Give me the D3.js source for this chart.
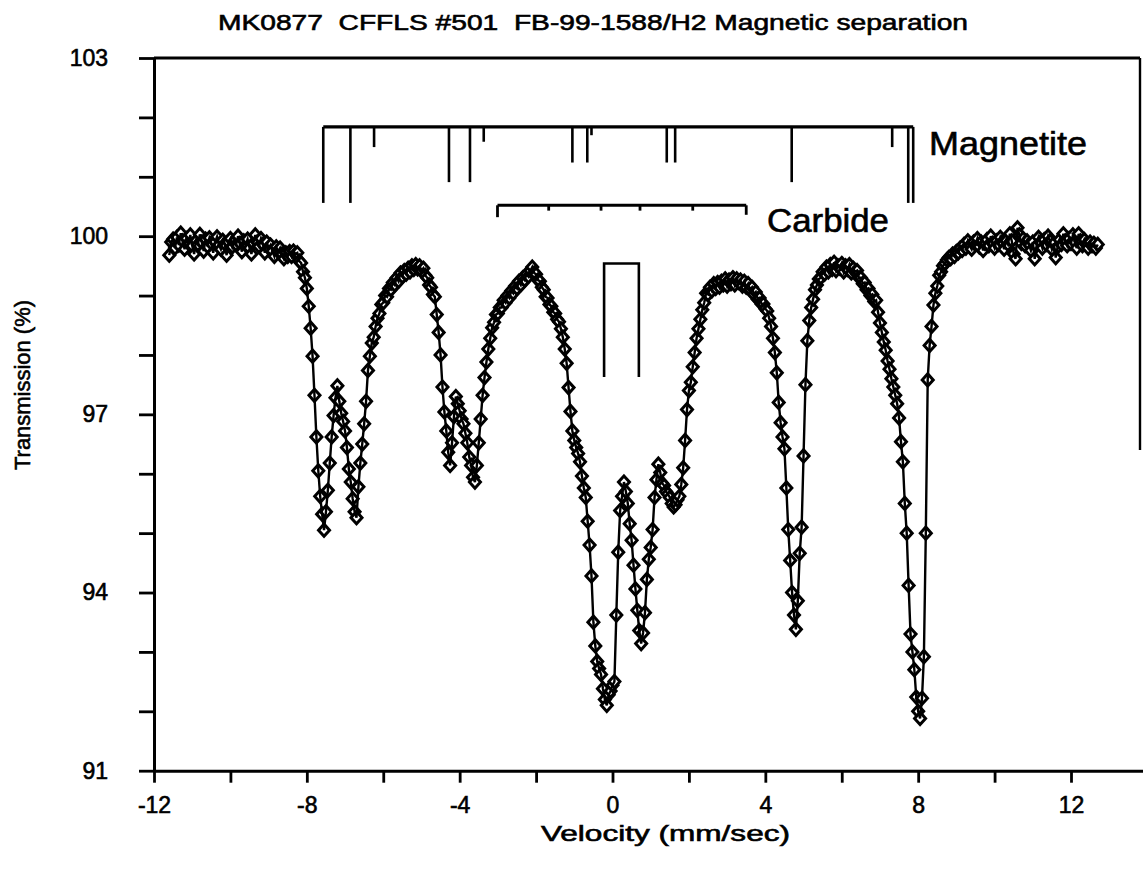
<!DOCTYPE html>
<html><head><meta charset="utf-8">
<script src="https://cdn.jsdelivr.net/npm/d3@7"></script>
<style>
body{margin:0;background:#fff}
svg{display:block}
text{font-family:"Liberation Sans",Arial,Helvetica,sans-serif;fill:#000;stroke:#000;stroke-width:0.6px}
</style>
</head><body>
<svg id="chart" width="1143" height="869"></svg>
<script>
// ---------- text ----------
const titleText = "MK0877  CFFLS #501  FB-99-1588/H2 Magnetic separation";
const xLabelText = "Velocity (mm/sec)";
const yLabelText = "Transmission (%)";
const magnetiteLabel = "Magnetite";
const carbideLabel = "Carbide";

// ---------- axes ----------
const xTicks = [-12,-10,-8,-6,-4,-2,0,2,4,6,8,10,12];
const xTickLabels = [-12,-8,-4,0,4,8,12];
const yTicks = [91,92,93,94,95,96,97,98,99,100,101,102,103];
const yTickLabels = [91,94,97,100,103];

// ---------- spectrum: [velocity mm/s, transmission %] ----------
const baselineLeft = [[-11.6,99.68],[-11.55,99.9],[-11.5,99.95],[-11.45,99.8],[-11.4,99.98],[-11.35,99.85],[-11.3,100.05],[-11.25,99.92],[-11.2,99.78],[-11.15,99.96],[-11.1,99.88],[-11.05,100.02],[-11,99.84],[-10.95,99.7],[-10.9,99.92],[-10.85,99.86],[-10.8,100.03],[-10.75,99.9],[-10.7,99.75],[-10.65,99.95],[-10.6,99.83],[-10.55,99.97],[-10.5,99.88],[-10.45,99.72],[-10.4,99.9],[-10.35,99.99],[-10.3,99.85],[-10.25,99.78],[-10.2,99.93],[-10.15,99.87],[-10.1,99.68],[-10.05,99.9],[-10,99.96],[-9.95,99.82],[-9.9,99.91],[-9.85,99.86],[-9.8,100],[-9.75,99.88],[-9.7,99.74],[-9.65,99.92],[-9.6,99.85],[-9.55,99.95],[-9.5,99.8],[-9.45,99.7],[-9.4,99.88],[-9.35,100.02],[-9.3,99.9],[-9.25,99.83],[-9.2,99.96],[-9.15,99.86],[-9.1,99.72],[-9.05,99.9],[-9,99.8],[-8.95,99.85],[-8.9,99.75],[-8.85,99.66],[-8.8,99.82],[-8.75,99.74],[-8.7,99.8],[-8.65,99.7],[-8.6,99.62],[-8.55,99.72],[-8.5,99.66],[-8.45,99.74],[-8.4,99.66],[-8.35,99.75]];

const sextetLeft = [[-8.3,99.7],[-8.25,99.72],[-8.2,99.58],[-8.15,99.55],[-8.1,99.4],[-8.05,99.3],[-8,99.12],[-7.95,98.82],[-7.9,98.45],[-7.85,97.98],[-7.8,97.32],[-7.75,96.62],[-7.7,96.05],[-7.65,95.62],[-7.6,95.32],[-7.55,95.05],[-7.5,95.36],[-7.45,95.72],[-7.4,96.18],[-7.35,96.62],[-7.3,96.98],[-7.25,97.28],[-7.2,97.48],[-7.15,97.22],[-7.1,97.02],[-7.05,96.88],[-7,96.72],[-6.95,96.44],[-6.9,96.08],[-6.85,95.86],[-6.8,95.58],[-6.75,95.36],[-6.7,95.26],[-6.65,95.78],[-6.6,96.18],[-6.55,96.5],[-6.5,96.84],[-6.45,97.22],[-6.4,97.74],[-6.35,97.98],[-6.3,98.2],[-6.25,98.3],[-6.2,98.48],[-6.15,98.62],[-6.1,98.7],[-6.05,98.85],[-6,98.88],[-5.95,99],[-5.9,98.98],[-5.85,99.12],[-5.8,99.1],[-5.75,99.22],[-5.7,99.18],[-5.65,99.3],[-5.6,99.24],[-5.55,99.38],[-5.5,99.32],[-5.45,99.42],[-5.4,99.36],[-5.35,99.46],[-5.3,99.4],[-5.25,99.5],[-5.2,99.44],[-5.15,99.52],[-5.1,99.45],[-5.05,99.5],[-5,99.42],[-4.95,99.46],[-4.9,99.34],[-4.85,99.3],[-4.8,99.18],[-4.75,99.14],[-4.7,99.02],[-4.65,98.98],[-4.6,98.68],[-4.55,98.38],[-4.5,98],[-4.45,97.46],[-4.4,97.04],[-4.35,96.72],[-4.3,96.36],[-4.25,96.14],[-4.2,96.52],[-4.15,96.96],[-4.1,97.3],[-4.05,97.18],[-4,97.06],[-3.95,96.92],[-3.9,96.84],[-3.85,96.68],[-3.8,96.52],[-3.75,96.28],[-3.7,96.14],[-3.65,95.94],[-3.6,95.86],[-3.55,96.14],[-3.5,96.52],[-3.45,96.92],[-3.4,97.32],[-3.35,97.62],[-3.3,97.88],[-3.25,98.1],[-3.2,98.28],[-3.15,98.46],[-3.1,98.55],[-3.05,98.68],[-3,98.7],[-2.95,98.8],[-2.9,98.8],[-2.85,98.92],[-2.8,98.88],[-2.75,99],[-2.7,98.96],[-2.65,99.08],[-2.6,99.04],[-2.55,99.16],[-2.5,99.12],[-2.45,99.24],[-2.4,99.18],[-2.35,99.3],[-2.3,99.26],[-2.25,99.36],[-2.2,99.32],[-2.15,99.42],[-2.1,99.48],[-2.05,99.38],[-2,99.36]];

const centre = [[-1.95,99.26],[-1.9,99.24],[-1.85,99.14],[-1.8,99.1],[-1.75,98.98],[-1.7,98.96],[-1.65,98.85],[-1.6,98.82],[-1.55,98.72],[-1.5,98.7],[-1.45,98.6],[-1.4,98.56],[-1.35,98.44],[-1.3,98.3],[-1.25,98.1],[-1.2,97.86],[-1.15,97.45],[-1.1,97.05],[-1.05,96.72],[-1,96.56],[-0.95,96.44],[-0.9,96.34],[-0.85,96.2],[-0.8,95.96],[-0.75,95.76],[-0.7,95.6],[-0.65,95.2],[-0.6,94.8],[-0.55,94.28],[-0.5,93.5],[-0.45,93.1],[-0.4,92.84],[-0.35,92.72],[-0.3,92.62],[-0.25,92.38],[-0.2,92.2],[-0.15,92.1],[-0.1,92.28],[-0.05,92.34],[0,92.44],[0.05,92.5],[0.1,93.62],[0.15,94.68],[0.2,95.38],[0.25,95.62],[0.3,95.86],[0.35,95.7],[0.4,95.5],[0.45,95.16],[0.5,94.88],[0.55,94.46],[0.6,94.06],[0.65,93.7],[0.7,93.36],[0.75,93.14],[0.8,93.32],[0.85,93.66],[0.9,94.22],[0.95,94.56],[1,94.76],[1.05,95.06],[1.1,95.6],[1.15,95.9],[1.2,96.16],[1.25,96.02],[1.3,95.84],[1.35,95.8],[1.4,95.7],[1.45,95.66],[1.5,95.6],[1.55,95.5],[1.6,95.44],[1.65,95.48],[1.7,95.56],[1.75,95.62],[1.8,95.82],[1.85,96.1],[1.9,96.56],[1.95,97.08],[2,97.4],[2.05,97.54],[2.1,97.8],[2.15,98.04],[2.2,98.28],[2.25,98.44],[2.3,98.6],[2.35,98.76],[2.4,98.88],[2.45,99.04],[2.5,99.02],[2.55,99.14],[2.6,99.08],[2.65,99.2],[2.7,99.12],[2.75,99.22],[2.8,99.14],[2.85,99.24],[2.9,99.18],[2.95,99.28],[3,99.16],[3.05,99.26],[3.1,99.2],[3.15,99.3],[3.2,99.18],[3.25,99.28],[3.3,99.22],[3.35,99.26],[3.4,99.16],[3.45,99.24],[3.5,99.14],[3.55,99.2],[3.6,99.1],[3.65,99.14],[3.7,99.02],[3.75,99.06],[3.8,98.94],[3.85,98.96],[3.9,98.86],[3.95,98.86],[4,98.78]];

const sextetRight = [[4.05,98.74],[4.1,98.62],[4.15,98.48],[4.2,98.28],[4.25,98.04],[4.3,97.7],[4.35,97.2],[4.4,96.86],[4.45,96.62],[4.5,96.42],[4.55,95.76],[4.6,95.06],[4.65,94.54],[4.7,94],[4.75,93.62],[4.8,93.38],[4.85,93.86],[4.9,94.66],[4.95,95.1],[5,96.3],[5.05,97.5],[5.1,98.24],[5.15,98.58],[5.2,98.8],[5.25,98.94],[5.3,99.1],[5.35,99.18],[5.4,99.28],[5.45,99.3],[5.5,99.4],[5.55,99.36],[5.6,99.48],[5.65,99.4],[5.7,99.52],[5.75,99.44],[5.8,99.56],[5.85,99.42],[5.9,99.5],[5.95,99.46],[6,99.54],[6.05,99.4],[6.1,99.5],[6.15,99.44],[6.2,99.52],[6.25,99.38],[6.3,99.46],[6.35,99.4],[6.4,99.42],[6.45,99.3],[6.5,99.3],[6.55,99.2],[6.6,99.22],[6.65,99.1],[6.7,99.12],[6.75,99],[6.8,99.02],[6.85,98.9],[6.9,98.92],[6.95,98.72],[7,98.54],[7.05,98.38],[7.1,98.22],[7.15,98.08],[7.2,97.9],[7.25,97.76],[7.3,97.6],[7.35,97.46],[7.4,97.32],[7.45,97.18],[7.5,96.94],[7.55,96.54],[7.6,96.2],[7.65,95.5],[7.7,95],[7.75,94.12],[7.8,93.3],[7.85,93],[7.9,92.7],[7.95,92.24],[8,92],[8.05,91.88],[8.1,92.22],[8.15,92.92],[8.2,95],[8.25,97.58],[8.3,98.16],[8.35,98.48],[8.4,98.84],[8.45,99.04],[8.5,99.16]];

const baselineRight = [[8.55,99.34],[8.6,99.4],[8.65,99.5],[8.7,99.54],[8.75,99.6],[8.8,99.64],[8.85,99.62],[8.9,99.7],[8.95,99.66],[9,99.74],[9.05,99.72],[9.1,99.8],[9.15,99.76],[9.2,99.86],[9.25,99.8],[9.3,99.92],[9.35,99.84],[9.4,99.78],[9.45,99.9],[9.5,99.86],[9.55,99.96],[9.6,99.82],[9.65,99.9],[9.7,99.76],[9.75,99.88],[9.8,99.94],[9.85,99.84],[9.9,100],[9.95,99.88],[10,99.8],[10.05,99.92],[10.1,99.86],[10.15,99.98],[10.2,99.9],[10.25,99.78],[10.3,99.92],[10.35,99.86],[10.4,100.04],[10.45,99.92],[10.5,99.7],[10.55,99.62],[10.6,100.14],[10.65,100.02],[10.7,99.88],[10.75,99.96],[10.8,99.84],[10.85,99.92],[10.9,99.86],[10.95,99.76],[11,99.9],[11.05,99.62],[11.1,99.84],[11.15,99.98],[11.2,99.9],[11.25,99.8],[11.3,99.94],[11.35,99.86],[11.4,100],[11.45,99.92],[11.5,99.78],[11.55,99.88],[11.6,99.64],[11.65,99.82],[11.7,99.94],[11.75,99.86],[11.8,100.04],[11.85,99.92],[11.9,99.84],[11.95,99.96],[12,99.88],[12.05,100.02],[12.1,99.9],[12.15,99.8],[12.2,100.04],[12.25,99.92],[12.3,99.84],[12.35,99.94],[12.4,99.86],[12.45,99.8],[12.5,99.9],[12.55,99.84],[12.6,99.88],[12.65,99.8],[12.7,99.86]];

// ---------- stick diagrams: [velocity, lower end of stick (transmission %)] ----------
const magnetiteBarLevel = 101.84;
const magnetiteSticks = [[-7.57,100.56],[-6.86,100.56],[-6.24,101.5],[-4.28,100.91],[-3.73,100.91],[-3.37,101.59],[-1.05,101.24],[-0.66,101.24],[-0.55,101.7],[1.42,101.24],[1.64,101.24],[4.69,100.91],[7.32,101.5],[7.74,100.56],[7.87,100.56]];
const carbideBarLevel = 100.52;
const carbideSticks = [[-3.01,100.32],[-1.67,100.43],[-0.3,100.43],[0.72,100.43],[2.1,100.43],[3.5,100.36]];
const doubletTop = 99.54;
const doubletSticks = [[-0.22,97.63],[0.69,97.63]];

// ---------- drawing ----------
const svg = d3.select("#chart");
svg.append("rect").attr("width",1143).attr("height",869).attr("fill","#fff");

const x = d3.scaleLinear().domain([-12, 12]).range([154, 1071]);
const y = d3.scaleLinear().domain([91, 103]).range([770.7, 58]);
const xAxisScale = x.copy().domain([-12, x.invert(1143)]).range([154, 1143]);

// X axis
const gx = svg.append("g").attr("transform", `translate(0,${y(91)})`)
  .call(d3.axisBottom(xAxisScale).tickValues(xTicks).tickSize(12).tickSizeOuter(0).tickPadding(14)
        .tickFormat(d => xTickLabels.includes(d) ? String(d) : ""));
// Y axis
const gy = svg.append("g").attr("transform", `translate(${x(-12)},0)`)
  .call(d3.axisLeft(y).tickValues(yTicks).tickSize(15).tickSizeOuter(0).tickPadding(31)
        .tickFormat(d => yTickLabels.includes(d) ? String(d) : ""));
[gx, gy].forEach(g => {
  g.select(".domain").attr("stroke","#000").attr("stroke-width",3);
  g.selectAll(".tick line").attr("stroke","#000").attr("stroke-width",2.8);
  g.selectAll(".tick text").attr("font-size",23).attr("fill","#000")
   .style("font-family",'"Liberation Sans",Arial,sans-serif');
});

// frame: top and partial right edge
svg.append("line").attr("x1", x(-12)).attr("x2", 1140).attr("y1", y(103)).attr("y2", y(103))
  .attr("stroke","#000").attr("stroke-width",3);
svg.append("line").attr("x1", 1140).attr("x2", 1140).attr("y1", y(103)).attr("y2", 450)
  .attr("stroke","#000").attr("stroke-width",2.4);

// title and labels
svg.append("text").attr("x", 218).attr("y", 30).attr("font-size", 22)
  .attr("textLength", 750).attr("lengthAdjust","spacingAndGlyphs")
  .style("white-space","pre").text(titleText);
svg.append("text").attr("x", 541).attr("y", 841).attr("font-size", 22)
  .attr("textLength", 249).attr("lengthAdjust","spacingAndGlyphs").text(xLabelText);
svg.append("text").attr("transform","translate(30,470) rotate(-90)").attr("font-size", 22)
  .attr("textLength", 170).attr("lengthAdjust","spacingAndGlyphs").text(yLabelText);

// stick diagrams
const sticks = svg.append("g").attr("stroke","#000").attr("fill","none");
const mExt = d3.extent(magnetiteSticks, d => d[0]);
sticks.append("line").attr("x1", x(mExt[0])).attr("x2", x(mExt[1]))
  .attr("y1", y(magnetiteBarLevel)).attr("y2", y(magnetiteBarLevel)).attr("stroke-width", 3.4);
sticks.selectAll(".ms").data(magnetiteSticks).join("line")
  .attr("x1", d => x(d[0])).attr("x2", d => x(d[0]))
  .attr("y1", y(magnetiteBarLevel)).attr("y2", d => y(d[1])).attr("stroke-width", 2.6);
const cExt = d3.extent(carbideSticks, d => d[0]);
sticks.append("line").attr("x1", x(cExt[0])).attr("x2", x(cExt[1]))
  .attr("y1", y(carbideBarLevel)).attr("y2", y(carbideBarLevel)).attr("stroke-width", 3);
sticks.selectAll(".cs").data(carbideSticks).join("line")
  .attr("x1", d => x(d[0])).attr("x2", d => x(d[0]))
  .attr("y1", y(carbideBarLevel)).attr("y2", d => y(d[1])).attr("stroke-width", 2.8);
sticks.append("path")
  .attr("d", `M${x(doubletSticks[0][0])},${y(doubletSticks[0][1])}V${y(doubletTop)}H${x(doubletSticks[1][0])}V${y(doubletSticks[1][1])}`)
  .attr("stroke-width", 2.6);

svg.append("text").attr("x", 929).attr("y", 155).attr("font-size", 33)
  .attr("textLength", 158).attr("lengthAdjust","spacingAndGlyphs").text(magnetiteLabel);
svg.append("text").attr("x", 767).attr("y", 232).attr("font-size", 33)
  .attr("textLength", 122).attr("lengthAdjust","spacingAndGlyphs").text(carbideLabel);

// spectrum
const spectrum = [].concat(baselineLeft, sextetLeft, centre, sextetRight, baselineRight);
const diamond = { draw(ctx, size) { const h = Math.sqrt(size) / 2, w = h * 0.9;
  ctx.moveTo(0, -h); ctx.lineTo(w, 0); ctx.lineTo(0, h); ctx.lineTo(-w, 0); ctx.closePath(); } };
svg.append("g").selectAll("path").data(spectrum).join("path")
  .attr("transform", d => `translate(${x(d[0])},${y(d[1])})`)
  .attr("d", d3.symbol(diamond, 150))
  .attr("fill", "#fff").attr("stroke", "#000").attr("stroke-width", 3);
svg.append("path").datum(spectrum)
  .attr("d", d3.line().x(d => x(d[0])).y(d => y(d[1])))
  .attr("fill","none").attr("stroke","#000").attr("stroke-width",2.4);
</script>
</body></html>
